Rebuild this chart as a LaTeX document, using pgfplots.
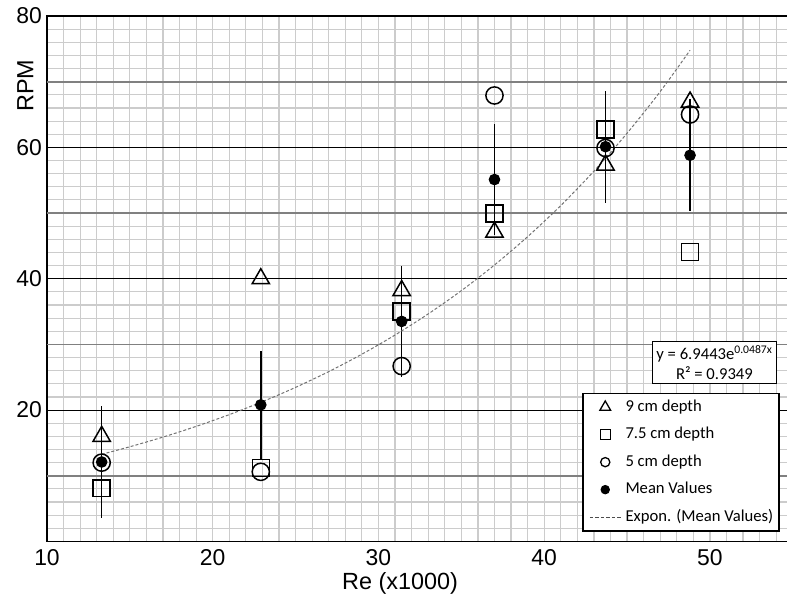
\documentclass[border=0pt]{standalone}
\usepackage{fontspec}
\setmainfont{Liberation Sans}
\newfontfamily\carlito{Carlito}
\usepackage{pgfplots}
\pgfplotsset{compat=1.18}
\begin{document}
\begin{tikzpicture}
\begin{axis}[
  scale only axis,
  width=762.45bp, height=525.5bp,
  xmin=10, xmax=56, ymin=0, ymax=80,
  enlargelimits=false,
  axis line style={line width=1.2bp, black},
  xtick={10,20,30,40,50},
  minor xtick={11,12,...,55},
  ytick={20,40,60,80},
  minor ytick={2,4,...,78},
  extra y ticks={10,30,50,70},
  extra y tick labels={},
  extra y tick style={major y grid style={line width=1.8bp, color=black!50}, major grid style={line width=1.8bp, color=black!50}},
  major tick length=0pt, minor tick length=0pt,
  grid=both,
  major x grid style={line width=1.2bp, color=black!20},
  minor x grid style={line width=1.2bp, color=black!20},
  major y grid style={line width=1.1bp, color=black},
  minor y grid style={line width=1.1bp, color=black!20},
  /pgf/number format/assume math mode=true,
  tick label style={font=\fontsize{23}{27}\selectfont},
  xticklabel style={inner sep=0pt, anchor=north, yshift=-8bp},
  yticklabel style={inner sep=0pt, anchor=east, xshift=-5bp},
  xlabel={Re (x1000)},
  ylabel={RPM},
  label style={font=\fontsize{23.5}{28}\selectfont},
  xlabel style={at={(axis cs:31.3,0)}, anchor=base, inner sep=0pt, yshift=-48.5bp},
  ylabel style={at={(axis cs:9.174,69.4)}, anchor=base, inner sep=0pt},
  legend style={
    at={(axis cs:54.22,1.5)}, anchor=south east,
    draw=black, line width=1.4bp, fill=white,
    font=\carlito\fontsize{16.7}{20}\selectfont,
    inner xsep=6bp, inner ysep=6bp,
    nodes={inner sep=0pt, text height=12bp, text depth=3.5bp},
    row sep=12bp, column sep=4bp,
  },
  legend cell align=left,
]
\coordinate (SW) at (axis cs:10,0);
\coordinate (NE) at (axis cs:54.65,80);

% 9 cm depth
\addplot[only marks, mark=triangle, mark size=10bp, line width=1.5bp, black,
  legend image code/.code={\path (0,0) (31bp,0); \draw[black, line width=1.3bp, mark size=6.2bp] plot[mark=triangle, only marks] coordinates {(15.5bp,0)};}]
  coordinates {(13.3,16.0) (22.9,40.0) (31.4,38.2) (37.0,47.1) (43.7,57.3) (48.8,66.9)};
\addlegendentry{9 cm depth}

% 7.5 cm depth
\addplot[only marks, mark=square, mark size=8.5bp, line width=1.5bp, black,
  legend image code/.code={\path (0,0) (31bp,0); \draw[black, line width=1.3bp, mark size=5bp] plot[mark=square, only marks] coordinates {(15.5bp,0)};}]
  coordinates {(13.3,8.1) (22.9,11.2) (31.4,35.0) (37.0,49.9) (43.7,62.7) (48.8,44.1)};
\addlegendentry{7.5 cm depth}

% 5 cm depth
\addplot[only marks, mark=o, mark size=8.6bp, line width=1.5bp, black,
  legend image code/.code={\path (0,0) (31bp,0); \draw[black, line width=1.3bp] (15.5bp,0) circle[radius=4.6bp];}]
  coordinates {(13.3,12.0) (22.9,10.6) (31.4,26.7) (37.0,67.9) (43.7,59.9) (48.8,65.0)};
\addlegendentry{5 cm depth}

% Mean values with error bars
\addplot[only marks, mark=*, mark size=5.3bp, black, line width=1bp,
  error bars/.cd, y dir=both, y explicit, error mark=none,
  error bar style={line width=1.6bp, black},
  /pgfplots/legend image code/.code={\path (0,0) (31bp,0); \fill[black] (15.5bp,0) circle[radius=4.2bp];}]
  coordinates {
    (13.3,12.1) +- (0,8.5)
    (22.9,20.8) +- (0,8.2)
    (31.4,33.5) +- (0,8.4)
    (37.0,55.1) +- (0,8.5)
    (43.7,60.1) +- (0,8.5)
    (48.8,58.8) +- (0,8.5)
  };
\addlegendentry{Mean Values}

% Exponential trend line y = 6.9443 e^{0.0487x}
\addplot[black!55, line width=1bp, dash pattern=on 3bp off 2bp, smooth,
  legend image code/.code={\draw[black!70, line width=0.9bp, dash pattern=on 3.5bp off 2bp] (0,0) -- (31bp,0);}]
  coordinates {
    (13.3,13.27) (15,14.42) (17,15.89) (19,17.52) (21,19.31) (23,21.28)
    (25,23.46) (27,25.86) (29,28.51) (31,31.43) (33,34.64) (35,38.18)
    (37,42.09) (39,46.40) (41,51.14) (43,56.38) (45,62.15) (47,68.50)
    (48.8,74.78)
  };
\addlegendentry{Expon. (Mean Values)}

\node[draw=black, line width=1.4bp, fill=white, align=center,
  font=\carlito\fontsize{16.7}{20}\selectfont, inner xsep=4bp, inner ysep=4bp]
  at (axis cs:50.27,27.24) {y = 6.9443e\textsuperscript{0.0487x}\\R² = 0.9349};
\end{axis}
\pgfresetboundingbox
\path[use as bounding box] ([shift={(-47bp,-53.5bp)}]SW) rectangle ([shift={(0bp,16bp)}]NE);
\end{tikzpicture}
\end{document}
